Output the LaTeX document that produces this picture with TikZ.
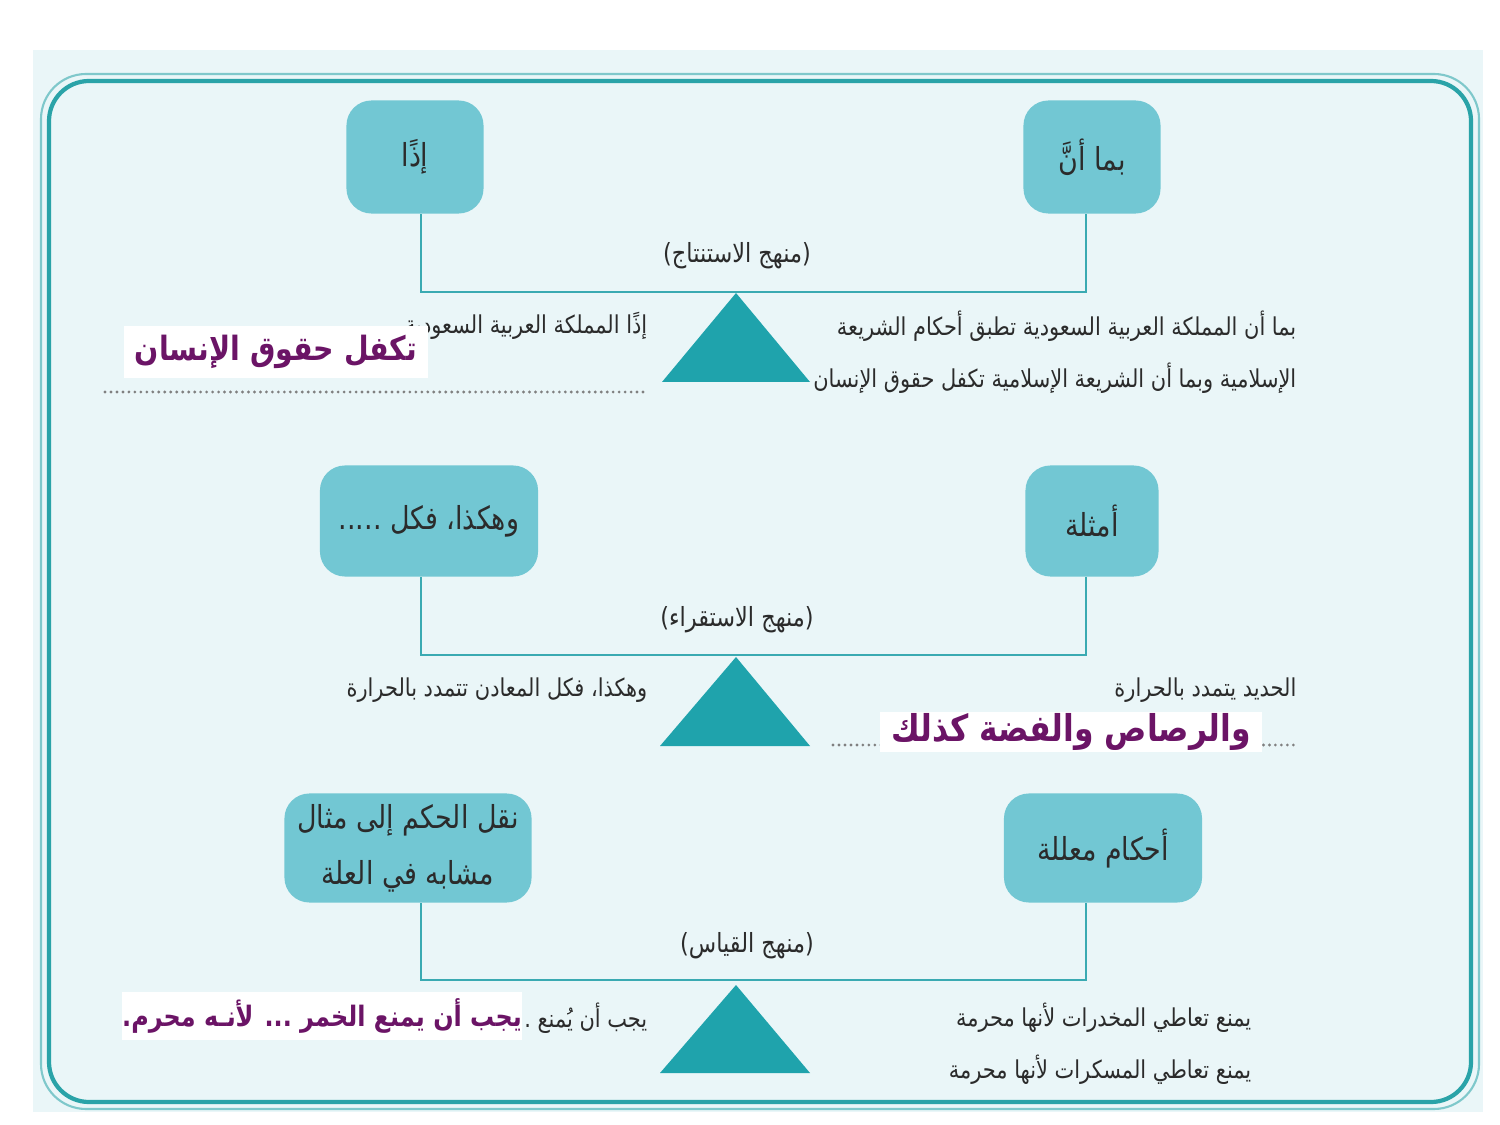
\documentclass[tikz,border=0pt]{standalone}
\usepackage{fontspec}
\newfontfamily\arabicfont[Script=Arabic,FakeStretch=0.85]{DejaVu Sans}
\TeXXeTstate=1
\newcommand\arl[1]{\beginR #1\endR}
\definecolor{panel}{HTML}{EAF6F8}
\definecolor{bord}{HTML}{2AA3A8}
\definecolor{boxfill}{HTML}{72C7D3}
\definecolor{linec}{HTML}{3AAAB2}
\definecolor{trifill}{HTML}{1FA3AC}
\definecolor{txtc}{HTML}{2B2B2B}
\definecolor{purp}{HTML}{6B1466}

\begin{document}
\begin{tikzpicture}[x=0.01cm,y=-0.01cm,
  box/.style={fill=boxfill,rounded corners=0.25cm,align=center,inner sep=0pt,text=txtc,font=\arabicfont\fontsize{9}{16}\selectfont},
  ln/.style={draw=linec,line width=0.7pt},
  lbl/.style={inner sep=0pt,text=txtc,font=\arabicfont\fontsize{7.5}{9}\selectfont},
  txt/.style={inner sep=0pt,text=txtc,anchor=east,font=\arabicfont\fontsize{7}{9}\selectfont},
  hl/.style={fill=white,inner sep=0pt,text=purp,font=\arabicfont\bfseries\fontsize{#1}{14}\selectfont},
  dots/.style={draw=gray,line width=0.9pt,line cap=round,dash pattern=on 0pt off 1.7pt},
  tri/.style={fill=trifill}]
\useasboundingbox (0,0) rectangle (1500,1125);
\fill[panel] (33,50) rectangle (1483,1112);
\draw[draw=bord!60,line width=0.6pt,rounded corners=0.45cm] (41,74) rectangle (1479,1109);
\draw[draw=bord,line width=1.2pt,rounded corners=0.4cm] (49,81) rectangle (1471,1102);
% deduction
\node[box,minimum width=1.37cm,minimum height=1.13cm] (bima) at (1092,157) {\arl{بما أنَّ}};
\node[box,minimum width=1.37cm,minimum height=1.13cm] (idhan) at (415,157) {\arl{إذًا}};
\draw[ln] ([xshift=-0.06cm]bima.south) -- ++(0,78) -| ([xshift=0.06cm]idhan.south);
\node[lbl] (m1) at (737,256) {\arl{(منهج الاستنتاج)}};
\fill[tri] (736,293) -- (810,382) -- (662,382) -- cycle;
\node[txt] (p1) at (1297,326) {\arl{بما أن المملكة العربية السعودية تطبق أحكام الشريعة}};
\node[txt] (p2) at (1297,378) {\arl{الإسلامية وبما أن الشريعة الإسلامية تكفل حقوق الإنسان}};
\node[txt] (c1) at (648,326) {\arl{إذًا المملكة العربية السعودية}};
\draw[dots] (105,392) -- (645,392);
\node[hl=9.5,minimum width=3.04cm,minimum height=0.51cm] (a1) at (276,352) {\arl{تكفل حقوق الإنسان}};
% induction
\node[box,minimum width=1.33cm,minimum height=1.11cm] (amthila) at (1092,521) {\arl{أمثلة}};
\node[box,minimum width=2.18cm,minimum height=1.11cm] (hakadha) at (429,521) {\arl{وهكذا، فكل .....}};
\draw[ln] ([xshift=-0.06cm]amthila.south) -- ++(0,78) -| ([xshift=-0.08cm]hakadha.south);
\node[lbl] (m2) at (737,620) {\arl{(منهج الاستقراء)}};
\fill[tri] (736,657) -- (810,746) -- (660,746) -- cycle;
\node[txt] (p3) at (1297,690) {\arl{الحديد يتمدد بالحرارة}};
\node[txt] (c2) at (648,690) {\arl{وهكذا، فكل المعادن تتمدد بالحرارة}};
\draw[dots] (833,745) -- (1297,745);
\node[hl=10.5,minimum width=3.82cm,minimum height=0.40cm] (a2) at (1071,732) {\arl{والرصاص والفضة كذلك}};
% analogy
\node[box,minimum width=1.98cm,minimum height=1.09cm] (ahkam) at (1103,848) {\arl{أحكام معللة}};
\node[box,minimum width=2.47cm,minimum height=1.09cm] (naql) at (408,848) {\arl{نقل الحكم إلى مثال}\\\arl{مشابه في العلة}};
\draw[ln] ([xshift=-0.17cm]ahkam.south) -- ++(0,77) -| ([xshift=0.13cm]naql.south);
\node[lbl] (m3) at (747,946) {\arl{(منهج القياس)}};
\fill[tri] (736,985) -- (810,1073) -- (660,1073) -- cycle;
\node[txt] (p4) at (1252,1018) {\arl{يمنع تعاطي المخدرات لأنها محرمة}};
\node[txt] (p5) at (1252,1070) {\arl{يمنع تعاطي المسكرات لأنها محرمة}};
\node[txt] (c3) at (648,1018) {\arl{يجب أن يُمنع .}};
\node[hl=8,minimum width=3.98cm,minimum height=0.48cm] (a3) at (322,1016) {\arl{يجب أن يمنع الخمر ... لأنـه محرم.}};
\end{tikzpicture}
\end{document}
